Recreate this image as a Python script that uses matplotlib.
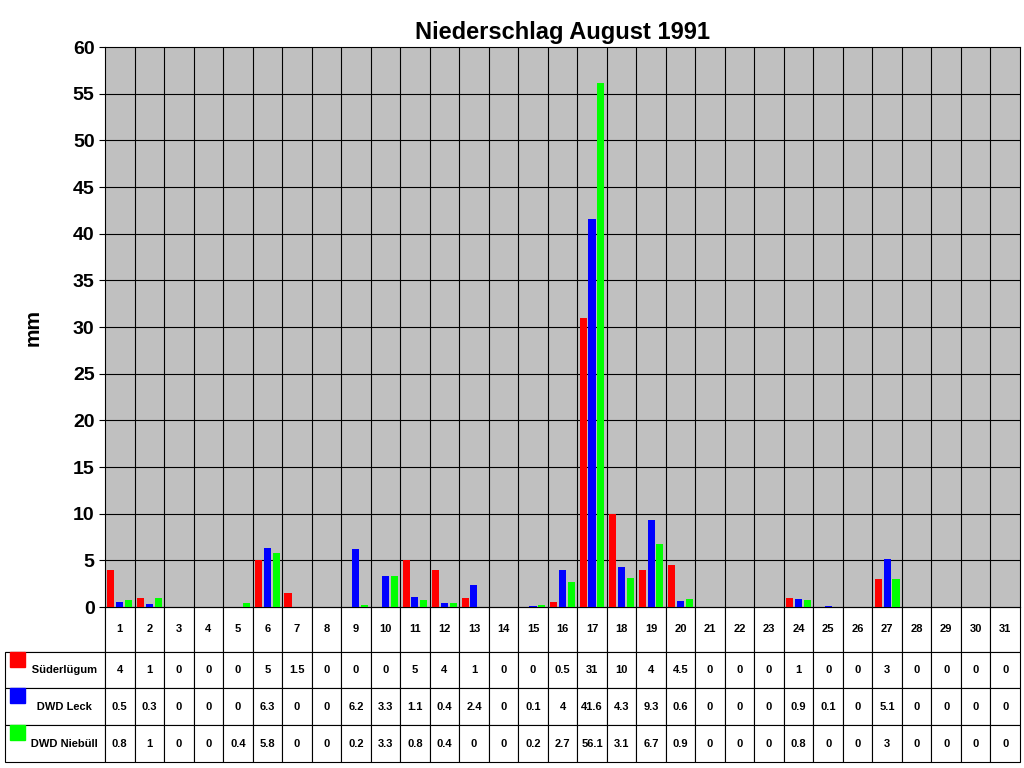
import matplotlib
matplotlib.use("Agg")
import matplotlib.pyplot as plt
from matplotlib.patches import Rectangle
import numpy as np

plt.rcParams['font.family'] = ['Liberation Sans', 'DejaVu Sans']

days = list(range(1, 32))
series_names = ["Süderlügum", "DWD Leck", "DWD Niebüll"]
colors = ["#FF0000", "#0000FF", "#00FF00"]
suederluegum = [4,1,0,0,0,5,1.5,0,0,0,5,4,1,0,0,0.5,31,10,4,4.5,0,0,0,1,0,0,3,0,0,0,0]
leck = [0.5,0.3,0,0,0,6.3,0,0,6.2,3.3,1.1,0.4,2.4,0,0.1,4,41.6,4.3,9.3,0.6,0,0,0,0.9,0.1,0,5.1,0,0,0,0]
niebuell = [0.8,1,0,0,0.4,5.8,0,0,0.2,3.3,0.8,0.4,0,0,0.2,2.7,56.1,3.1,6.7,0.9,0,0,0,0.8,0,0,3,0,0,0,0]
data = [suederluegum, leck, niebuell]

fig = plt.figure(figsize=(10.24, 7.68), dpi=100)
L, R, T, B = 105, 1020, 47, 607
ax = fig.add_axes([L/1024, 1-B/768, (R-L)/1024, (B-T)/768])
ax.set_facecolor("#C0C0C0")
x = np.array(days)
w = 0.24
for i, (vals, c) in enumerate(zip(data, colors)):
    ax.bar(x + (i-1)*0.3, vals, width=w, color=c, zorder=3)
ax.set_xlim(0.5, 31.5)
ax.set_ylim(0, 60)
ax.set_yticks(range(0, 61, 5))
ax.set_xticks([])
for d in np.arange(1.5, 31.5, 1):
    ax.axvline(d, color="black", lw=0.8, zorder=1)
for yv in range(5, 60, 5):
    ax.axhline(yv, color="black", lw=0.8, zorder=1)
for s in ax.spines.values():
    s.set_color("black")
ax.tick_params(axis='y', labelsize=14, length=4)
for lab in ax.get_yticklabels():
    lab.set_fontweight("bold")
ax.set_ylabel("mm", fontsize=15, fontweight="bold", labelpad=22)
ax.set_title("Niederschlag August 1991", fontsize=17, fontweight="bold", pad=6)

def fmt(v):
    return str(int(v)) if float(v).is_integer() else str(v)

cell_text = [[""] + [str(d) for d in days]]
for name, vals in zip(series_names, data):
    cell_text.append(["      " + name] + [fmt(v) for v in vals])
labw = (L - 5) / (R - L)
colw = [labw] + [1/31]*31
tbl = ax.table(cellText=cell_text, colWidths=colw, cellLoc='center',
               bbox=[-labw, -(762-607)/(B-T), 1+labw, (762-607)/(B-T)])
tbl.auto_set_font_size(False)
for (r, c), cell in tbl.get_celld().items():
    cell.set_height(45 if r == 0 else 37)
    cell.set_linewidth(0.8)
    cell.get_text().set_fontsize(8)
    cell.get_text().set_fontweight("bold")
    if c == 0:
        cell._loc = 'left'
        cell.PAD = 0.02
        if r == 0:
            cell.visible_edges = "BR"
# colored legend squares
rows_y = [(652, 689), (689, 725), (725, 762)]
for (y0, y1), c in zip(rows_y, colors):
    fig.patches.append(Rectangle((10/1024, 1-(y1-22)/768), 15/1024, 15/768,
                                 transform=fig.transFigure, color=c, figure=fig))
fig.savefig("out.png", dpi=100, facecolor="white")
